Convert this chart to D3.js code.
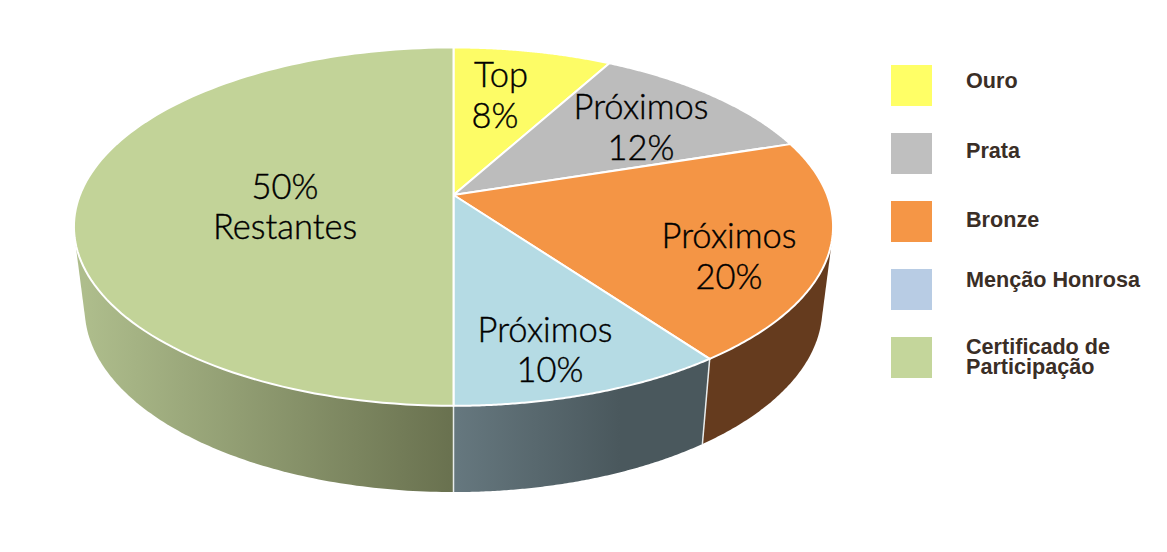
<!DOCTYPE html>
<html><head><meta charset="utf-8">
<script src="https://cdn.jsdelivr.net/npm/d3@7/dist/d3.min.js"></script>
<style>html,body{margin:0;padding:0;background:#fff;overflow:hidden}</style>
</head><body><svg id="c" width="1167" height="552"></svg>
<script>
const categories = ["Ouro","Prata","Bronze","Menção Honrosa","Certificado de Participação"];
const values = [8,12,20,10,50];
const labelNames = ["Top","Próximos","Próximos","Próximos","Restantes"];
const topColors = ["#fdfc66","#bcbcbc","#f49545","#b5dbe4","#c2d398"];
const legendColors = ["#ffff66","#bfbfbf","#f59646","#b8cce4","#c4d69b"];
const wallColors = [null,null,"#653b1e",["#66787f","#4a585d"],["#aebd8c","#69714f"]];

const svg = d3.select("#c");
const defs = svg.append("defs");

// Perspective projection of the pie's top and bottom discs
const topDisc = {x0:453.5,y0:195,a:373.6,b:173.6,k:0.1765};
const botDisc = {x0:453.5,y0:276.4,a:363,b:177.6,k:0.1765};
const proj = (d,t)=>{const q=1+d.k*Math.cos(t);return [d.x0+d.a*Math.sin(t)/q,d.y0-d.b*Math.cos(t)/q];};
const arcPts = (d,t0,t1)=>d3.range(0,121).map(i=>proj(d,t0+(t1-t0)*i/120));
const line = d3.line();
const pie = d3.pie().sort(null).value(d=>d);
const arcs = pie(values);

// gradients
[[3,453,620],[4,85,453]].forEach(([i,x1,x2])=>{
  const g=defs.append("linearGradient").attr("id","w"+i).attr("gradientUnits","userSpaceOnUse")
    .attr("x1",x1).attr("x2",x2).attr("y1",0).attr("y2",0);
  g.append("stop").attr("offset",0).attr("stop-color",wallColors[i][0]);
  g.append("stop").attr("offset",1).attr("stop-color",wallColors[i][1]);
});

// walls: convex hull of each slice's top and bottom rims gives the tangent silhouette
[4,2,3].forEach(i=>{
  const a=arcs[i];
  const t0=a.startAngle,t1=i===4?Math.PI*1.5:a.endAngle;
  const hull=d3.polygonHull(arcPts(topDisc,t0,t1).concat(arcPts(botDisc,t0,t1)));
  svg.append("path").attr("d",line(hull)+"Z")
    .attr("fill",i===2?wallColors[2]:`url(#w${i})`);
});
// wall separators
[arcs[3].startAngle,arcs[3].endAngle].forEach(t=>{
  svg.append("path").attr("d",line([proj(topDisc,t),proj(botDisc,t)]))
    .attr("stroke","#e8ecec").attr("stroke-width",1.5).attr("fill","none");
});

// top slices
arcs.forEach((a,i)=>{
  const pts=[[topDisc.x0,topDisc.y0]].concat(arcPts(topDisc,a.startAngle,a.endAngle));
  svg.append("path").attr("d",line(pts)+"Z").attr("fill",topColors[i])
    .attr("stroke","#fff").attr("stroke-width",2).attr("stroke-linejoin","round");
});

// slice labels
const lab = [
 {lines:[labelNames[0],"8%"],xs:[501,495],ys:[87,128]},
 {lines:[labelNames[1],"12%"],xs:[641,641],ys:[119,160]},
 {lines:[labelNames[2],"20%"],xs:[729,729],ys:[248,289]},
 {lines:[labelNames[3],"10%"],xs:[545,550],ys:[342,382]},
 {lines:["50%",labelNames[4]],xs:[285,285],ys:[199,239]}
];
lab.forEach(l=>l.lines.forEach((s,j)=>{
  svg.append("text").attr("x",l.xs[j]).attr("y",l.ys[j]).attr("text-anchor","middle")
   .attr("font-family","Lato, sans-serif").attr("font-weight",300).attr("font-size",34.5)
   .attr("fill","#000").attr("stroke","#000").attr("stroke-width",0.4).text(s);
}));

// legend
const legendY = d3.scalePoint().domain(categories).range([65,337]);
const lg = svg.append("g").selectAll("g").data(categories).join("g");
lg.append("rect").attr("x",891).attr("y",d=>legendY(d)).attr("width",41).attr("height",41)
  .attr("fill",(d,i)=>legendColors[i]);
const legendBase = [[23],[25],[26],[18],[17,37]];
lg.each(function(d,i){
  const g=d3.select(this), y=legendY(d);
  const parts = i===4?["Certificado de","Participação"]:[d];
  parts.forEach((p,j)=>g.append("text").attr("x",966).attr("y",y+legendBase[i][j])
    .attr("font-family","'Liberation Sans',Arial,sans-serif").attr("font-weight",700)
    .attr("font-size",21.6).attr("fill","#3a2e26").text(p));
});
</script></body></html>
